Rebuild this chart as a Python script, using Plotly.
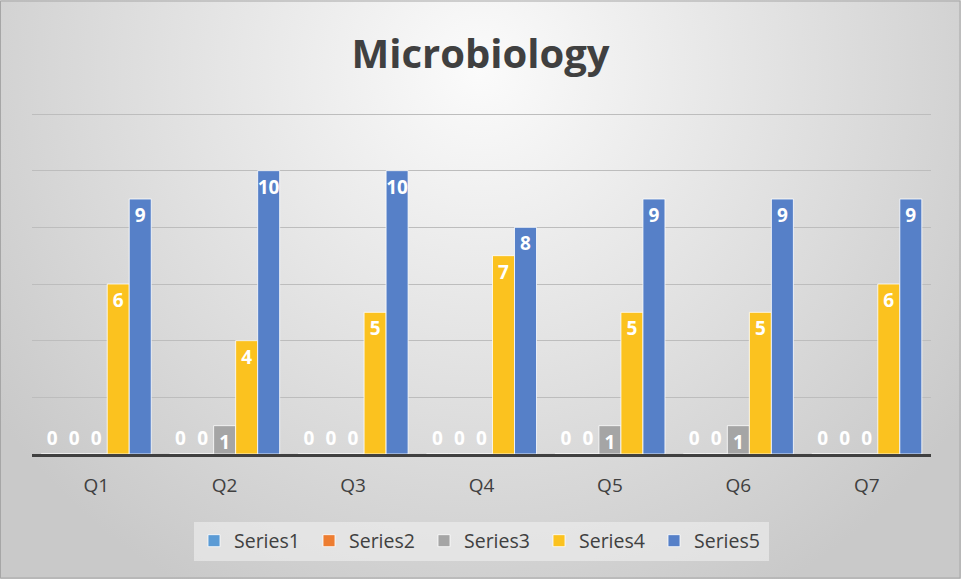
import base64
import plotly.graph_objects as go

categories = ["Q1", "Q2", "Q3", "Q4", "Q5", "Q6", "Q7"]
series_names = ["Series1", "Series2", "Series3", "Series4", "Series5"]
series1 = [0, 0, 0, 0, 0, 0, 0]
series2 = [0, 0, 0, 0, 0, 0, 0]
series3 = [0, 1, 0, 0, 1, 1, 0]
series4 = [6, 4, 5, 7, 5, 5, 6]
series5 = [9, 10, 10, 8, 9, 9, 9]
colors = ["#5B9BD5", "#ED7D31", "#A5A5A5", "#FBC21F", "#5680C8"]

W, H = 961, 579
L, R, T, B = 32, 30, 111, 125
pw, ph = W - L - R, H - T - B
y_top = 12 * ph / (ph - 3)

label_font = dict(family="Open Sans", size=19, color="white", weight="bold")

fig = go.Figure()
for name, vals, col in zip(series_names, [series1, series2, series3, series4, series5], colors):
    fig.add_trace(go.Bar(
        name=name, x=categories, y=vals,
        marker=dict(color=col, line=dict(color="rgba(255,255,255,0.8)", width=1)),
        text=[str(v) for v in vals],
        textposition=["outside" if v == 0 else "inside" for v in vals],
        insidetextanchor="end",
        textangle=0,
        constraintext="none",
        cliponaxis=False,
        textfont=label_font,
        outsidetextfont=label_font,
        insidetextfont=label_font,
        hoverinfo="skip",
    ))

svg = f'''<svg xmlns="http://www.w3.org/2000/svg" width="{W}" height="{H}" viewBox="0 0 {W} {H}">
<defs><radialGradient id="g" gradientUnits="userSpaceOnUse" cx="{W/2}" cy="{H*0.12}" r="{W*0.62}">
<stop offset="0" stop-color="#fbfbfb"/><stop offset="1" stop-color="#c9c9c9"/></radialGradient></defs>
<rect width="{W}" height="{H}" fill="url(#g)"/></svg>'''
src = "data:image/svg+xml;base64," + base64.b64encode(svg.encode()).decode()

fig.update_layout(
    width=W, height=H,
    margin=dict(l=L, r=R, t=T, b=B),
    paper_bgcolor="#dcdcdc",
    plot_bgcolor="rgba(0,0,0,0)",
    barmode="group",
    bargap=0.143,
    bargroupgap=0,
    title=dict(text="<b>Microbiology</b>", x=0.5, xanchor="center", y=1 - 54 / H, yanchor="middle",
               font=dict(family="Open Sans", size=40, color="#404040")),
    font=dict(family="Open Sans", color="#404040"),
    showlegend=True,
    legend=dict(orientation="h", x=0.5, xanchor="center", y=-(541 - (H - B)) / ph, yanchor="middle",
                bgcolor="rgba(240,240,240,0.6)", font=dict(size=19.5, color="#404040"),
                itemwidth=30, entrywidth=70, traceorder="normal"),
    images=[dict(source=src, xref="paper", yref="paper", x=-L / pw, y=1 + T / ph,
                 sizex=W / pw, sizey=H / ph, xanchor="left", yanchor="top",
                 sizing="stretch", layer="below")],
    shapes=[dict(type="rect", xref="paper", yref="paper", x0=-L / pw + 0.5 / pw, x1=1 + (R - 1) / pw,
                 y0=-B / ph + 1 / ph, y1=1 + (T - 1) / ph, line=dict(color="#a6a6a6", width=1),
                 fillcolor="rgba(0,0,0,0)", layer="above")],
)
fig.update_xaxes(showgrid=False, showline=True, linecolor="#404040", linewidth=3,
                 tickfont=dict(size=19, color="#404040"), ticks="", ticklabelstandoff=12)
fig.update_yaxes(range=[0, y_top], dtick=2, tick0=0, showgrid=True, gridcolor="#bdbdbd", gridwidth=1,
                 showticklabels=False, zeroline=False, showline=False)

fig.write_html("out.html", config={"displayModeBar": False},
               post_script="document.body.style.margin='0';document.body.style.overflow='hidden';")
